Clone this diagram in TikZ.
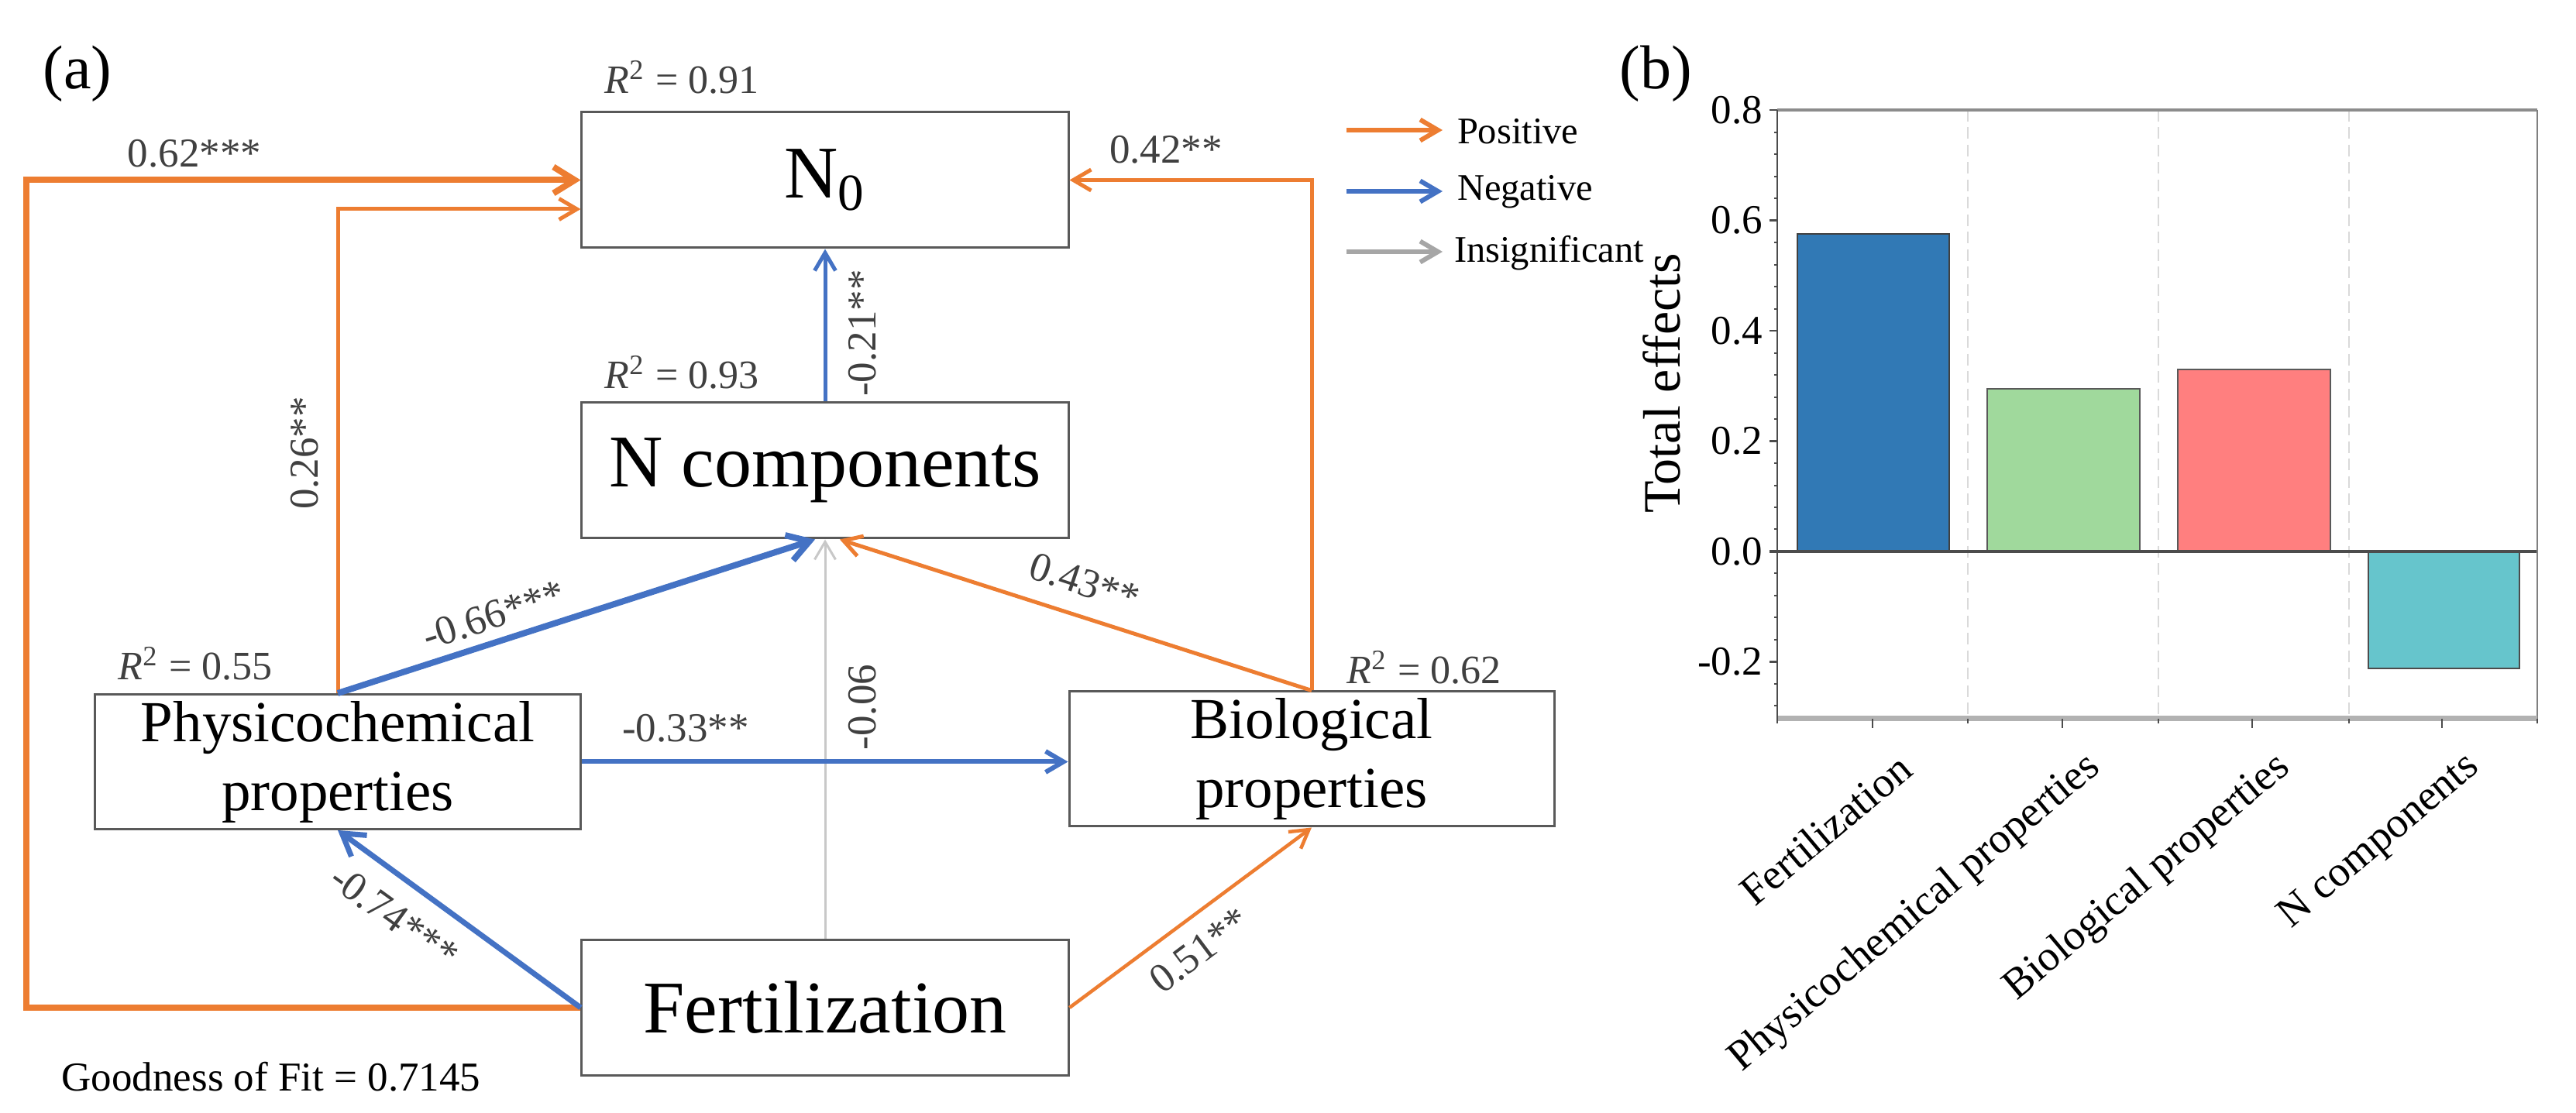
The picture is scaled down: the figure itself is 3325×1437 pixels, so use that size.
\documentclass[tikz,border=0pt]{standalone}
\usepackage{fontspec}
\setmainfont{Liberation Serif}
\usetikzlibrary{arrows.meta}
\definecolor{myorange}{HTML}{ED7D31}
\definecolor{myblue}{HTML}{4472C4}
\definecolor{nsgray}{HTML}{C8C8C8}
\definecolor{leggray}{HTML}{A6A6A6}
\definecolor{boxgray}{HTML}{595959}
\definecolor{labgray}{HTML}{404040}
\definecolor{barblue}{HTML}{3179B5}
\definecolor{bargreen}{HTML}{A0D99C}
\definecolor{barred}{HTML}{FF7F7F}
\definecolor{barcyan}{HTML}{66C5CC}
\definecolor{gridgray}{HTML}{DADADA}
\tikzset{
  bigbox/.style={draw=boxgray, line width=0.6pt, fill=white, inner sep=0pt,
    minimum width=125.6pt, minimum height=35pt, align=center,
    font=\fontsize{19.2}{23}\selectfont},
  midbox/.style={draw=boxgray, line width=0.6pt, fill=white, inner sep=0pt,
    minimum width=125.2pt, minimum height=34.8pt, align=center,
    font=\fontsize{15}{17.8}\selectfont},
  rsq/.style={font=\fontsize{10.4}{12}\selectfont, text=labgray, inner sep=0pt},
  plbl/.style={font=\fontsize{10.6}{12}\selectfont, text=labgray, inner sep=0pt},
  legtxt/.style={font=\fontsize{9.7}{11}\selectfont, anchor=west, inner sep=0pt},
  tipbig/.style={-{Straight Barb[length=5.5pt,width=6.8pt]}},
  tipsmall/.style={-{Straight Barb[length=4.6pt,width=5.4pt]}},
  posthick/.style={draw=myorange, line width=1.6pt, tipbig},
  posthin/.style={draw=myorange, line width=1.0pt, tipsmall},
  negthick/.style={draw=myblue, line width=1.6pt, tipbig},
  negthin/.style={draw=myblue, line width=1.0pt, tipsmall},
  nsline/.style={draw=nsgray, line width=0.6pt, tipsmall},
  ticklbl/.style={font=\fontsize{10.6}{12}\selectfont, anchor=east, inner sep=0pt},
  catlbl/.style={font=\fontsize{11}{13}\selectfont, anchor=east, rotate=40, inner sep=0pt},
}
\begin{document}
\begin{tikzpicture}[x=0.2pt,y=-0.2pt]
\useasboundingbox (0,0) rectangle (3325,1437);
\fill[white] (0,0) rectangle (3325,1437);

% ---------------- panel (a) ----------------
\node[font=\fontsize{16}{19}\selectfont] (pa) at (100,95) {(a)};

\node[bigbox] (N0) at (1065,232.5) {N\textsubscript{0}};
\node[bigbox] (NC) at (1065,607.5) {N components};
\node[midbox] (PH) at (436,983.5) {Physicochemical\\properties};
\node[midbox] (BI) at (1693,980) {Biological\\properties};
\node[bigbox] (FE) at (1065,1301) {Fertilization};

\node[rsq] (r1) at (880,100) {{\itshape R}\textsuperscript{2} = 0.91};
\node[rsq] (r2) at (880,481) {{\itshape R}\textsuperscript{2} = 0.93};
\node[rsq] (r3) at (252,857) {{\itshape R}\textsuperscript{2} = 0.55};
\node[rsq] (r4) at (1838,862) {{\itshape R}\textsuperscript{2} = 0.62};

\coordinate (L1) at (34,232.5);
% connectors
\draw[posthick, line join=miter] (FE.west) -| (L1) -- (N0.west);
\draw[posthin] (PH.north) |- ([yshift=-7.5pt]N0.west);
\draw[posthin] (BI.north) |- (N0.east);
\draw[negthin] (NC.north) -- (N0.south);
\draw[nsline] (FE.north) -- (NC.south);
\draw[negthick] (PH.north) -- ([xshift=-2.6pt]NC.south);
\draw[posthin] (BI.north) -- ([xshift=3.8pt]NC.south);
\draw[negthin, line width=1.2pt] (PH.east) -- (PH.east -| BI.west);
\draw[negthick, line width=1.4pt] (FE.west) -- (PH.south);
\draw[posthin, line width=0.9pt] (FE.east) -- (BI.south);

% path labels
\node[plbl] (l1) at (251,198) {0.62***};
\node[plbl, rotate=90] (l2) at (393,585) {0.26**};
\node[plbl] (l3) at (1505,193) {0.42**};
\node[plbl, rotate=90] (l4) at (1113,430) {-0.21**};
\node[plbl, rotate=18.1] (l5) at (637,794) {-0.66***};
\node[plbl] (l6) at (885,940) {-0.33**};
\node[plbl, rotate=90] (l7) at (1113,913) {-0.06};
\node[plbl, rotate=-18.3] (l8) at (1400,752) {0.43**};
\node[plbl, rotate=36.9] (l9) at (1548,1227) {0.51**};
\node[plbl, rotate=-36] (l10) at (509,1183) {-0.74***};

\node[font=\fontsize{10.6}{12}\selectfont, inner sep=0pt] (gof) at (350,1390) {Goodness of Fit = 0.7145};

% legend
\coordinate (lg1a) at (1738,168); \coordinate (lg1b) at (1862,168);
\coordinate (lg2a) at (1738,247); \coordinate (lg2b) at (1862,247);
\coordinate (lg3a) at (1738,325); \coordinate (lg3b) at (1862,325);
\draw[posthin, line width=1.2pt] (lg1a) -- (lg1b);
\draw[negthin, line width=1.2pt] (lg2a) -- (lg2b);
\draw[draw=leggray, line width=1.2pt, tipsmall] (lg3a) -- (lg3b);
\node[legtxt] (t1) at (1880,170) {Positive};
\node[legtxt] (t2) at (1880,248) {Negative};
\node[legtxt] (t3) at (1876,327) {Insignificant};

% ---------------- panel (b) ----------------
\node[font=\fontsize{16}{19}\selectfont] (pb) at (2137,95) {(b)};

% grid lines
\foreach \gx in {2540,2786,3032}
  \draw[gridgray, line width=0.35pt, dash pattern=on 3pt off 1.5pt] (\gx,142) -- (\gx,928);
% bars
\draw[fill=barblue, draw=black!75, line width=0.5pt] (2320,302) rectangle (2516,712);
\draw[fill=bargreen, draw=black!65, line width=0.5pt] (2565,502) rectangle (2762,712);
\draw[fill=barred, draw=black!65, line width=0.5pt] (2811,477) rectangle (3008,712);
\draw[fill=barcyan, draw=black!70, line width=0.5pt] (3057,712) rectangle (3252,863);
% zero line
\draw[black!70, line width=0.7pt] (2284,712) -- (3275,712);
% frame
\draw[black!45, line width=0.9pt] (2294,142) -- (3275,142);
\draw[black!50, line width=0.5pt] (3275,142) -- (3275,928);
\draw[black!30, line width=1.4pt] (2294,928) -- (3275,928);
\draw[black!70, line width=0.5pt] (2294,142) -- (2294,928);
% y ticks
\foreach \i in {-7,...,20}
  \draw[black!70, line width=0.4pt] (2290,{712-712.5*0.04*\i}) -- (2294,{712-712.5*0.04*\i});
\foreach \v/\t in {0.8/0.8,0.6/0.6,0.4/0.4,0.2/0.2,0/0.0,-0.2/-0.2}{
  \draw[black!70, line width=0.5pt] (2284,{712-712.5*\v}) -- (2294,{712-712.5*\v});
  \node[ticklbl] at (2276,{712-712.5*\v}) {\t};
}
% x ticks
\foreach \cx in {2417,2662,2907,3152}
  \draw[black!70, line width=0.5pt] (\cx,928) -- (\cx,940);
\foreach \cx in {2294,2540,2786,3032,3275}
  \draw[black!70, line width=0.4pt] (\cx,928) -- (\cx,934);
% axis label
\node[font=\fontsize{13.6}{16}\selectfont, rotate=90, inner sep=0pt] (ylab) at (2145,495) {Total effects};
% category labels
\node[catlbl] (c1) at (2460,984) {Fertilization};
\node[catlbl] (c2) at (2705,984) {Physicochemical properties};
\node[catlbl] (c3) at (2950,984) {Biological properties};
\node[catlbl] (c4) at (3195,984) {N components};
\end{tikzpicture}
\end{document}
